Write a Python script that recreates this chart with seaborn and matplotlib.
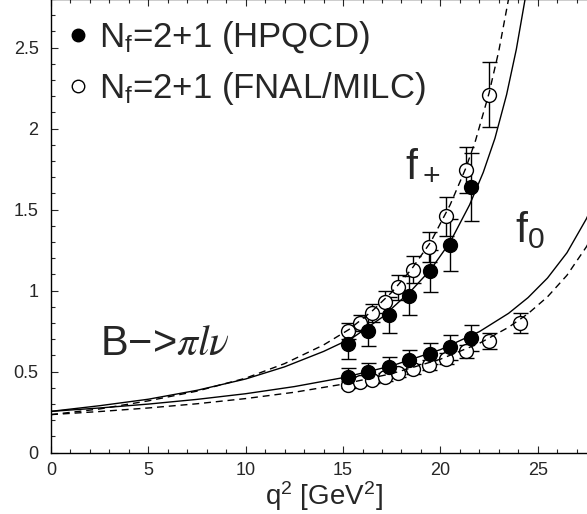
import matplotlib
matplotlib.use("Agg")
import matplotlib.pyplot as plt
import seaborn as sns
from matplotlib.lines import Line2D
from matplotlib.ticker import MultipleLocator, FixedLocator, FixedFormatter

# data
# HPQCD points (filled)
q2_hpqcd = [15.23, 16.28, 17.34, 18.40, 19.47, 20.51, 21.57]
fplus_hpqcd = [0.67, 0.75, 0.85, 0.97, 1.12, 1.28, 1.64]
fplus_hpqcd_err = [0.09, 0.09, 0.11, 0.12, 0.13, 0.16, 0.21]
fzero_hpqcd = [0.47, 0.50, 0.53, 0.57, 0.61, 0.65, 0.71]
fzero_hpqcd_err = [0.05, 0.055, 0.06, 0.065, 0.065, 0.075, 0.08]

# FNAL/MILC points (open)
q2_fnal_plus = [15.27, 15.87, 16.49, 17.15, 17.84, 18.58, 19.41, 20.29, 21.30, 22.51]
fplus_fnal = [0.75, 0.80, 0.86, 0.93, 1.02, 1.13, 1.27, 1.46, 1.745, 2.21]
fplus_fnal_err = [0.05, 0.05, 0.055, 0.065, 0.075, 0.085, 0.09, 0.12, 0.14, 0.20]
q2_fnal_zero = [15.27, 15.87, 16.49, 17.15, 17.84, 18.58, 19.41, 20.29, 21.30, 22.51, 24.09]
fzero_fnal = [0.42, 0.435, 0.45, 0.465, 0.49, 0.515, 0.54, 0.58, 0.625, 0.69, 0.80]
fzero_fnal_err = [0.02, 0.02, 0.02, 0.025, 0.025, 0.03, 0.03, 0.035, 0.04, 0.05, 0.06]

# fit curves (solid = HPQCD, dashed = FNAL/MILC)
q2_fit_plus_solid = [0, 2.5, 5, 7.5, 10, 12, 14, 15.5, 17, 18.5, 19.5, 20.5, 21.5, 22.2, 22.8, 23.4, 23.9, 24.35]
fplus_fit_solid = [0.255, 0.29, 0.33, 0.385, 0.455, 0.53, 0.625, 0.71, 0.835, 1.0, 1.13, 1.30, 1.53, 1.73, 1.94, 2.21, 2.49, 2.80]
q2_fit_plus_dash = [0, 2.5, 5, 7.5, 10, 12, 14, 15.3, 16.5, 17.5, 18.5, 19.5, 20.5, 21.3, 21.8, 22.5, 23.0, 23.5]
fplus_fit_dash = [0.235, 0.27, 0.32, 0.38, 0.46, 0.55, 0.665, 0.76, 0.875, 0.99, 1.13, 1.30, 1.53, 1.755, 1.925, 2.22, 2.48, 2.80]
q2_fit_zero = [0, 2.5, 5, 7.5, 10, 12.5, 15, 17.5, 20, 22, 23.5, 24.5, 25.5, 26.5, 27.5, 28]
fzero_fit_solid = [0.255, 0.276, 0.30, 0.329, 0.364, 0.408, 0.463, 0.536, 0.636, 0.747, 0.86, 0.957, 1.078, 1.234, 1.444, 1.577]
fzero_fit_dash = [0.235, 0.254, 0.276, 0.302, 0.334, 0.373, 0.423, 0.488, 0.577, 0.675, 0.774, 0.858, 0.962, 1.095, 1.271, 1.381]

y_ticks = [0, 0.5, 1, 1.5, 2, 2.5]
y_ticklabels = ["0", "0.5", "1", "1.5", "2", "2.5"]
legend_labels = [r"N$_\mathrm{f}$=2+1 (HPQCD)", r"N$_\mathrm{f}$=2+1 (FNAL/MILC)"]

sns.set_style("ticks")
plt.rcParams["font.family"] = ["Liberation Sans", "DejaVu Sans"]
plt.rcParams["mathtext.fontset"] = "custom"
plt.rcParams["mathtext.rm"] = "Liberation Sans"
plt.rcParams["mathtext.it"] = "Liberation Sans:italic"

fig = plt.figure(figsize=(5.87, 5.14), dpi=100)
ax = fig.add_axes([0.0869, 0.1193, 0.9287, 0.8825])

# curves
sns.lineplot(x=q2_fit_plus_solid, y=fplus_fit_solid, ax=ax, color="black", lw=1.0, zorder=3)
sns.lineplot(x=q2_fit_zero, y=fzero_fit_solid, ax=ax, color="black", lw=1.0, zorder=3)
sns.lineplot(x=q2_fit_plus_dash, y=fplus_fit_dash, ax=ax, color="black", lw=1.0, zorder=3,
             linestyle=(0, (5, 3.5)))
sns.lineplot(x=q2_fit_zero, y=fzero_fit_dash, ax=ax, color="black", lw=1.0, zorder=3,
             linestyle=(0, (5, 3.5)))

# data points with error bars
eb = dict(fmt="o", ms=10, color="black", ecolor="black", elinewidth=1.0,
          capsize=5.4, capthick=1.0, zorder=2)
ax.errorbar(q2_fnal_plus, fplus_fnal, yerr=fplus_fnal_err, mfc="white", mec="black", **eb)
ax.errorbar(q2_fnal_zero, fzero_fnal, yerr=fzero_fnal_err, mfc="white", mec="black", **eb)
ax.errorbar(q2_hpqcd, fplus_hpqcd, yerr=fplus_hpqcd_err, mfc="black", mec="black", **eb)
ax.errorbar(q2_hpqcd, fzero_hpqcd, yerr=fzero_hpqcd_err, mfc="black", mec="black", **eb)

ax.set_xlim(0, 28)
ax.set_ylim(0, 2.8)
ax.xaxis.set_major_locator(MultipleLocator(5))
ax.xaxis.set_minor_locator(MultipleLocator(1))
ax.yaxis.set_major_locator(FixedLocator(y_ticks))
ax.yaxis.set_major_formatter(FixedFormatter(y_ticklabels))
ax.yaxis.set_minor_locator(MultipleLocator(0.1))
ax.tick_params(which="both", direction="in", top=True, right=False, width=0.8, labelsize=13)
ax.tick_params(which="major", length=5)
ax.tick_params(which="minor", length=3)
ax.tick_params(axis="x", pad=7)
ax.tick_params(axis="y", pad=9)
for s in ax.spines.values():
    s.set_linewidth(1.0)
    s.set_color("black")

ax.set_xlabel(r"q$^2$ [GeV$^2$]", fontsize=20, labelpad=0)
ax.set_ylabel("")

# annotations
ax.text(18.2, 1.71, r"f$_+$", fontsize=31, ha="left", va="baseline")
ax.text(23.85, 1.30, r"f$_0$", fontsize=31, ha="left", va="baseline")
ax.text(2.5, 0.60, "B\u2212>" + r"$\pi l\nu$", fontsize=30, ha="left", va="baseline",
        math_fontfamily="stix")

handles = [Line2D([], [], marker="o", ls="", ms=9, mfc="black", mec="black"),
           Line2D([], [], marker="o", ls="", ms=9, mfc="white", mec="black")]
ax.legend(handles, legend_labels, loc="upper left", bbox_to_anchor=(0.011, 0.979),
          frameon=False, fontsize=25, handlelength=0.6, handletextpad=0.32,
          labelspacing=0.40, borderaxespad=0, borderpad=0.3)

fig.savefig("out.png", dpi=100)
